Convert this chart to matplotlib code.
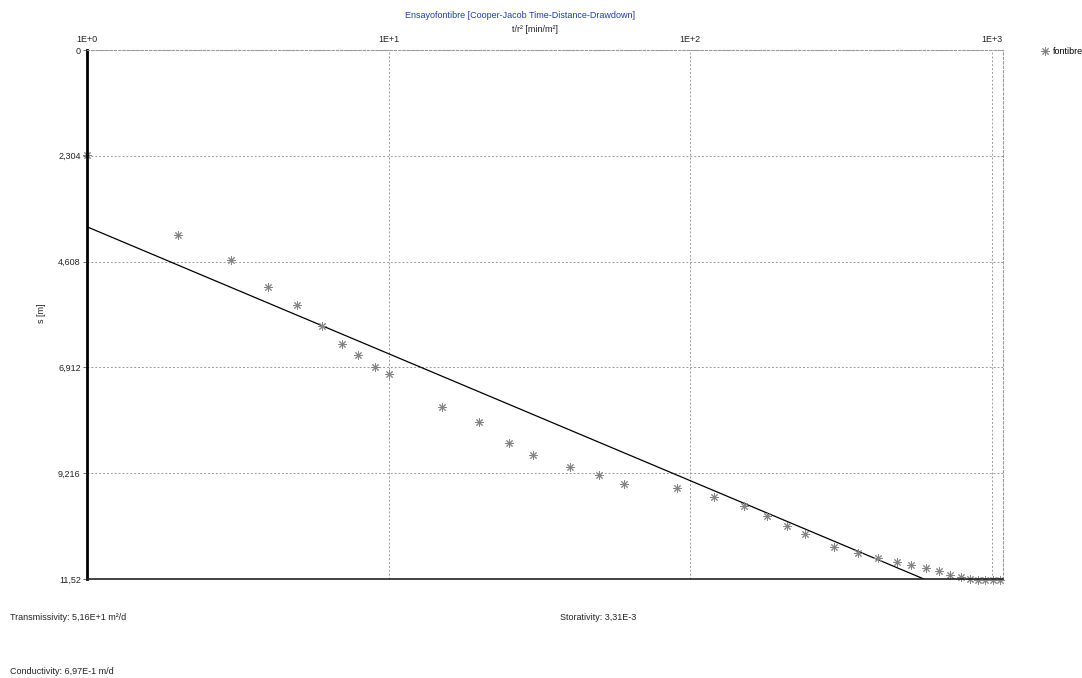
import numpy as np
import matplotlib
matplotlib.use("Agg")
import matplotlib.pyplot as plt
from matplotlib.ticker import FixedLocator, NullLocator

plt.rcParams['font.family'] = ['Liberation Sans', 'DejaVu Sans']

# ---- data ----
t_r2 = [1.0, 2.0, 3.0, 3.98, 4.97, 6.01, 7.0, 7.91, 9.0, 10.0,
        15.0, 19.9, 25.0, 30.1, 39.9, 49.8, 60.2, 90.3, 119.8, 150.6,
        179.5, 209, 240, 299, 360, 419, 484, 538, 604, 667,
        725, 788, 845, 895, 950, 1010, 1065]
s_obs = [2.29, 4.03, 4.57, 5.16, 5.55, 6.01, 6.40, 6.64, 6.90, 7.06,
         7.77, 8.10, 8.56, 8.82, 9.08, 9.26, 9.45, 9.54, 9.73, 9.93,
         10.15, 10.37, 10.54, 10.82, 10.95, 11.06, 11.15, 11.22, 11.28, 11.35,
         11.43, 11.48, 11.53, 11.54, 11.54, 11.55, 11.55]
fit_intercept = 3.85   # s at t/r2 = 1
fit_slope = 2.765      # drawdown per log cycle

y_ticks = [0, 2.304, 4.608, 6.912, 9.216, 11.52]
y_ticklabels = ["0", "2,304", "4,608", "6,912", "9,216", "11,52"]
x_ticks = [1, 10, 100, 1000]
x_ticklabels = ["1E+0", "1E+1", "1E+2", "1E+3"]

title = "Ensayofontibre [Cooper-Jacob Time-Distance-Drawdown]"
xlabel = "t/r\u00b2 [min/m\u00b2]"
ylabel = "s [m]"
series_name = "fontibre"
info_T = "Transmissivity: 5,16E+1 m\u00b2/d"
info_S = "Storativity: 3,31E-3"
info_K = "Conductivity: 6,97E-1 m/d"

# ---- figure ----
W, H = 1082, 678
fig = plt.figure(figsize=(W / 100, H / 100), dpi=100)
ax = fig.add_axes([87 / W, 1 - 579 / H, (1003 - 87) / W, (579 - 50) / H])

ax.set_xscale('log')
ax.set_xlim(1, 1087)
ax.set_ylim(11.52, 0)

tt = np.logspace(0, np.log10(1087), 200)
ax.plot(tt, fit_intercept + fit_slope * np.log10(tt), color='black', lw=0.9)

ax.plot(t_r2, s_obs, linestyle='none', marker=(8, 2, 0), markersize=6,
        markeredgewidth=0.7, color='#858585', clip_on=False, label=series_name)

ax.xaxis.tick_top()
ax.xaxis.set_major_locator(FixedLocator(x_ticks))
ax.xaxis.set_minor_locator(NullLocator())
ax.set_xticklabels(x_ticklabels)
ax.yaxis.set_major_locator(FixedLocator(y_ticks))
ax.set_yticklabels(y_ticklabels)
ax.tick_params(axis='both', which='major', labelsize=6.5, length=3, width=0.6,
               color='#555555', pad=1.5, labelcolor='#222222')
ax.tick_params(axis='x', top=False)

ax.grid(True, which='major', linestyle=(0, (2, 2)), color='#9a9a9a', lw=0.7)

for side in ['top', 'right']:
    ax.spines[side].set_linestyle((0, (2, 2)))
    ax.spines[side].set_color('#9a9a9a')
    ax.spines[side].set_linewidth(0.8)
ax.spines['left'].set_linewidth(2.0)
ax.spines['left'].set_color('black')
ax.spines['bottom'].set_linewidth(1.2)
ax.spines['bottom'].set_color('#222222')

fig.text(520 / W, 1 - 15 / H, title, color='#1f3fa0', fontsize=6.5,
         ha='center', va='center')
fig.text(535 / W, 1 - 30 / H, xlabel, color='#222222', fontsize=6.5,
         ha='center', va='center')
fig.text(42 / W, 1 - 313 / H, ylabel, color='#222222', fontsize=6.5,
         ha='center', va='center', rotation=90)

ax.legend(loc='upper left', bbox_to_anchor=(1040 / W, 1 - 47 / H),
          bbox_transform=fig.transFigure, frameon=False, fontsize=6.5,
          handlelength=1.0, handletextpad=0.4, borderpad=0, borderaxespad=0)

fig.text(10 / W, 1 - 617 / H, info_T, fontsize=6.5, ha='left', va='center',
         color='#222222')
fig.text(560 / W, 1 - 617 / H, info_S, fontsize=6.5, ha='left', va='center',
         color='#222222')
fig.text(10 / W, 1 - 672 / H, info_K, fontsize=6.5, ha='left', va='center',
         color='#222222')

fig.savefig("out.png", dpi=100)
